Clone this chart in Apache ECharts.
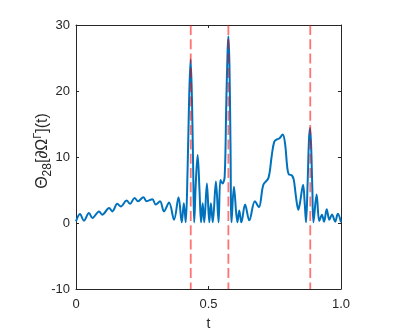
<!DOCTYPE html>
<html lang="en">
<head>
    <meta charset="utf-8">
    <title>Theta 28</title>
    <script src="https://cdn.jsdelivr.net/npm/echarts@6/dist/echarts.min.js"></script>
    <style>
        html, body { margin: 0; padding: 0; background: #fff; }
        #chart { width: 403px; height: 333px; }
    </style>
</head>
<body>
    <div id="chart"></div>
    <script type="text/javascript">
        // time samples and values
        var tValues = [0, 0.015, 0.030, 0.049, 0.062, 0.087, 0.099, 0.125, 0.137, 0.156, 0.169, 0.191, 0.204, 0.221, 0.234, 0.254, 0.267, 0.288, 0.301, 0.317, 0.332, 0.351, 0.370, 0.387, 0.399, 0.407, 0.414,
            0.421, 0.427, 0.4325, 0.438, 0.443, 0.446, 0.452, 0.459, 0.466, 0.472, 0.478, 0.484, 0.494, 0.503, 0.509, 0.516, 0.528, 0.538, 0.545, 0.553, 0.561, 0.567, 0.572, 0.575, 0.579, 0.583, 0.587,
            0.596, 0.609, 0.616, 0.624, 0.638, 0.654, 0.675, 0.690, 0.707, 0.726, 0.738, 0.748, 0.760, 0.767, 0.780, 0.789, 0.797, 0.803, 0.815, 0.822, 0.830, 0.839, 0.845, 0.857, 0.863, 0.868,
            0.874, 0.879, 0.883, 0.887, 0.892, 0.896, 0.908, 0.918, 0.928, 0.936, 0.946, 0.956, 0.966, 0.978, 0.988, 1.0];
        var thetaValues = [0.25, 1.36, 0.35, 1.5, 0.75, 1.76, 1.26, 2.27, 1.76, 2.9, 2.5, 3.4, 2.9, 3.8, 3.3, 3.9, 3.3, 3.6, 2.8, 3.3, 1.76, 3.1, 0.5, 3.9, 0.1, 3.0, 0.1,
            8, 19, 24.8, 18, 6, 0.1, 6, 10.3, 5, 0.1, 3.0, 0.1, 6.0, 0.1, 3.0, 0.1, 6.3, 0.1, 6.5, 6.0, 7, 18, 26, 28.3, 24, 12, 0.1,
            5.5, 0.1, 1.9, 0.1, 2.8, 0.4, 3.3, 2.4, 5.8, 6.8, 10.0, 12.3, 12.7, 12.8, 13.4, 12.0, 8.5, 7.4, 7.2, 6.5, 4.0, 2.0, 3.0, 5.8, 3.0, 0.1,
            6, 12.5, 14.4, 12, 5, 0.1, 4.3, 0.3, 1.26, 0.2, 2.1, 0.5, 1.3, 0.2, 1.4, 0.1];
        // red dashed markers
        var markTimes = [0.433, 0.575, 0.884];
        var xTicks = [0, 0.5, 1];
        var yTicks = [-10, 0, 10, 20, 30];

        var axisColor = "#262626";
        var fontName = "Liberation Sans, Arial, sans-serif";

        var lineData = tValues.map(function (t, i) { return [t, thetaValues[i]]; });

        var series = [{
            type: "line",
            data: lineData,
            smooth: 0.35,
            showSymbol: false,
            symbol: "none",
            lineStyle: { color: "#0072BD", width: 2 },
            z: 2
        }];
        markTimes.forEach(function (t) {
            series.push({
                type: "line",
                data: [[t, yTicks[yTicks.length - 1]], [t, yTicks[0]]],
                symbol: "none",
                lineStyle: { color: "rgba(255,0,0,0.55)", width: 1.8, type: [10, 4.3] },
                z: 3
            });
        });

        function baseX(pos) {
            return {
                type: "value",
                position: pos,
                min: xTicks[0],
                max: xTicks[xTicks.length - 1],
                interval: 0.5,
                axisLine: { show: true, onZero: false, lineStyle: { color: axisColor, width: 1 } },
                axisTick: { show: true, inside: true, length: 3, lineStyle: { color: axisColor } },
                splitLine: { show: false }
            };
        }
        function baseY(pos) {
            return {
                type: "value",
                position: pos,
                min: yTicks[0],
                max: yTicks[yTicks.length - 1],
                interval: 10,
                axisLine: { show: true, onZero: false, lineStyle: { color: axisColor, width: 1 } },
                axisTick: { show: true, inside: true, length: 3, lineStyle: { color: axisColor } },
                splitLine: { show: false }
            };
        }

        var xBottom = baseX("bottom");
        xBottom.axisLabel = {
            color: axisColor, fontSize: 13, fontFamily: fontName, margin: 9,
            formatter: function (v) { return v === 1 ? "1.0" : String(v); }
        };
        xBottom.name = "t";
        xBottom.nameLocation = "middle";
        xBottom.nameGap = 28;
        xBottom.nameMoveOverlap = false;
        xBottom.nameTextStyle = { color: axisColor, fontSize: 14, fontFamily: fontName };

        var xTop = baseX("top");
        xTop.axisLabel = { show: false };

        var yLeft = baseY("left");
        yLeft.axisLabel = { color: axisColor, fontSize: 13, fontFamily: fontName, margin: 6 };
        yLeft.name = "{a|Θ}{s|28}{a|[∂Ω}{p|Γ}{a|](t)}";
        yLeft.nameLocation = "middle";
        yLeft.nameRotate = 90;
        yLeft.nameGap = 22;
        yLeft.nameMoveOverlap = false;
        yLeft.nameTextStyle = {
            color: axisColor, fontFamily: fontName,
            padding: [0, 0, 0, 12],
            rich: {
                a: { fontSize: 16, color: axisColor, fontFamily: fontName, lineHeight: 22 },
                s: { fontSize: 12, color: axisColor, fontFamily: fontName, lineHeight: 22, verticalAlign: "bottom" },
                p: { fontSize: 11, color: axisColor, fontFamily: fontName, lineHeight: 22, verticalAlign: "top" }
            }
        };

        var yRight = baseY("right");
        yRight.axisLabel = { show: false };

        var chart = echarts.init(document.getElementById("chart"));
        chart.setOption({
            backgroundColor: "#fff",
            animation: false,
            grid: { left: 76, right: 62, top: 25, bottom: 44, containLabel: false, outerBoundsMode: "none" },
            xAxis: [xBottom, xTop],
            yAxis: [yLeft, yRight],
            series: series
        });
    </script>
</body>
</html>
